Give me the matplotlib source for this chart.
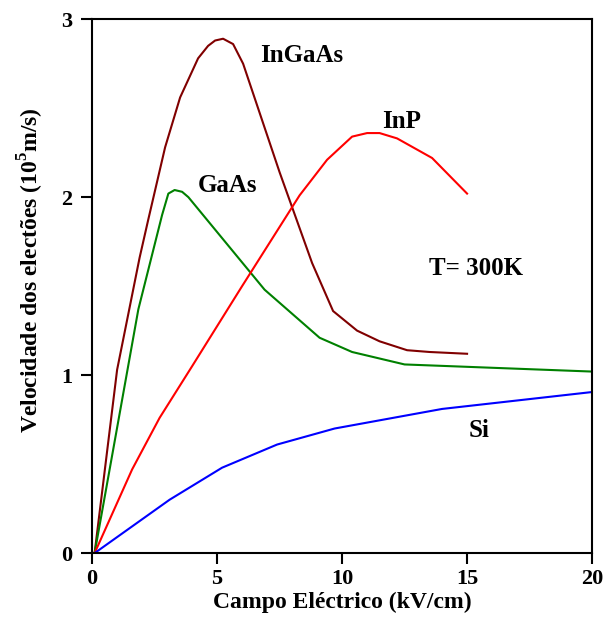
import matplotlib.pyplot as plt

# dados (campo em kV/cm, velocidade em 10^5 m/s)
ingaas_x = [0.1, 1.0, 1.9, 2.24, 2.92, 3.52, 4.24, 4.64, 4.92, 5.24, 5.64, 6.04, 7.5, 8.8, 9.64, 10.6, 11.5, 12.6, 13.5, 15.0]
ingaas_y = [0.0, 1.03, 1.66, 1.87, 2.28, 2.56, 2.78, 2.85, 2.88, 2.89, 2.86, 2.75, 2.14, 1.63, 1.36, 1.25, 1.19, 1.14, 1.13, 1.12]

gaas_x = [0.1, 1.85, 2.8, 3.05, 3.3, 3.6, 3.85, 6.9, 9.1, 10.4, 12.5, 20.0]
gaas_y = [0.0, 1.37, 1.90, 2.02, 2.04, 2.03, 2.00, 1.48, 1.21, 1.13, 1.06, 1.02]

inp_x = [0.1, 1.6, 2.7, 4.0, 6.0, 8.3, 9.4, 10.4, 11.0, 11.5, 12.2, 13.6, 15.0]
inp_y = [0.0, 0.47, 0.76, 1.05, 1.50, 2.01, 2.21, 2.34, 2.36, 2.36, 2.33, 2.22, 2.02]

si_x = [0.1, 3.1, 5.2, 7.4, 9.7, 14.0, 20.0]
si_y = [0.0, 0.30, 0.48, 0.61, 0.70, 0.81, 0.905]

plt.rcParams['font.family'] = ['Liberation Serif', 'DejaVu Serif']
plt.rcParams['font.weight'] = 'bold'
plt.rcParams['mathtext.fontset'] = 'custom'
plt.rcParams['mathtext.bf'] = 'Liberation Serif:bold'

fig = plt.figure(figsize=(6.06, 6.18), dpi=100)
ax = fig.add_axes([0.152, 0.105, 0.825, 0.864])

ax.plot(ingaas_x, ingaas_y, color="#800000", lw=1.5)
ax.plot(gaas_x, gaas_y, color="#008000", lw=1.5)
ax.plot(inp_x, inp_y, color="#ff0000", lw=1.5)
ax.plot(si_x, si_y, color="#0000ff", lw=1.5)

ax.text(8.38, 2.76, "InGaAs", fontsize=18, fontweight="bold", ha="center", va="baseline")
ax.text(12.4, 2.39, "InP", fontsize=18, fontweight="bold", ha="center", va="baseline")
ax.text(5.42, 2.03, "GaAs", fontsize=18, fontweight="bold", ha="center", va="baseline")
ax.text(15.34, 1.56, "T= 300K", fontsize=18, fontweight="bold", ha="center", va="baseline")
ax.text(15.48, 0.65, "Si", fontsize=18, fontweight="bold", ha="center", va="baseline")

ax.set_xlim(0, 20)
ax.set_ylim(0, 3)
ax.set_xticks([0, 5, 10, 15, 20])
ax.set_yticks([0, 1, 2, 3])
ax.tick_params(direction="out", length=8, width=1.5, labelsize=16)
ax.tick_params(axis="y", pad=6)

for s in ax.spines.values():
    s.set_linewidth(1.5)

ax.set_xlabel("Campo Eléctrico (kV/cm)", fontsize=17, fontweight="bold", labelpad=2)
ax.set_ylabel(r"Velocidade dos electões (10$^{\mathbf{5}}$m/s)", fontsize=17, fontweight="bold")
ax.yaxis.set_label_coords(-0.092, 0.53)

plt.savefig("out.png")
